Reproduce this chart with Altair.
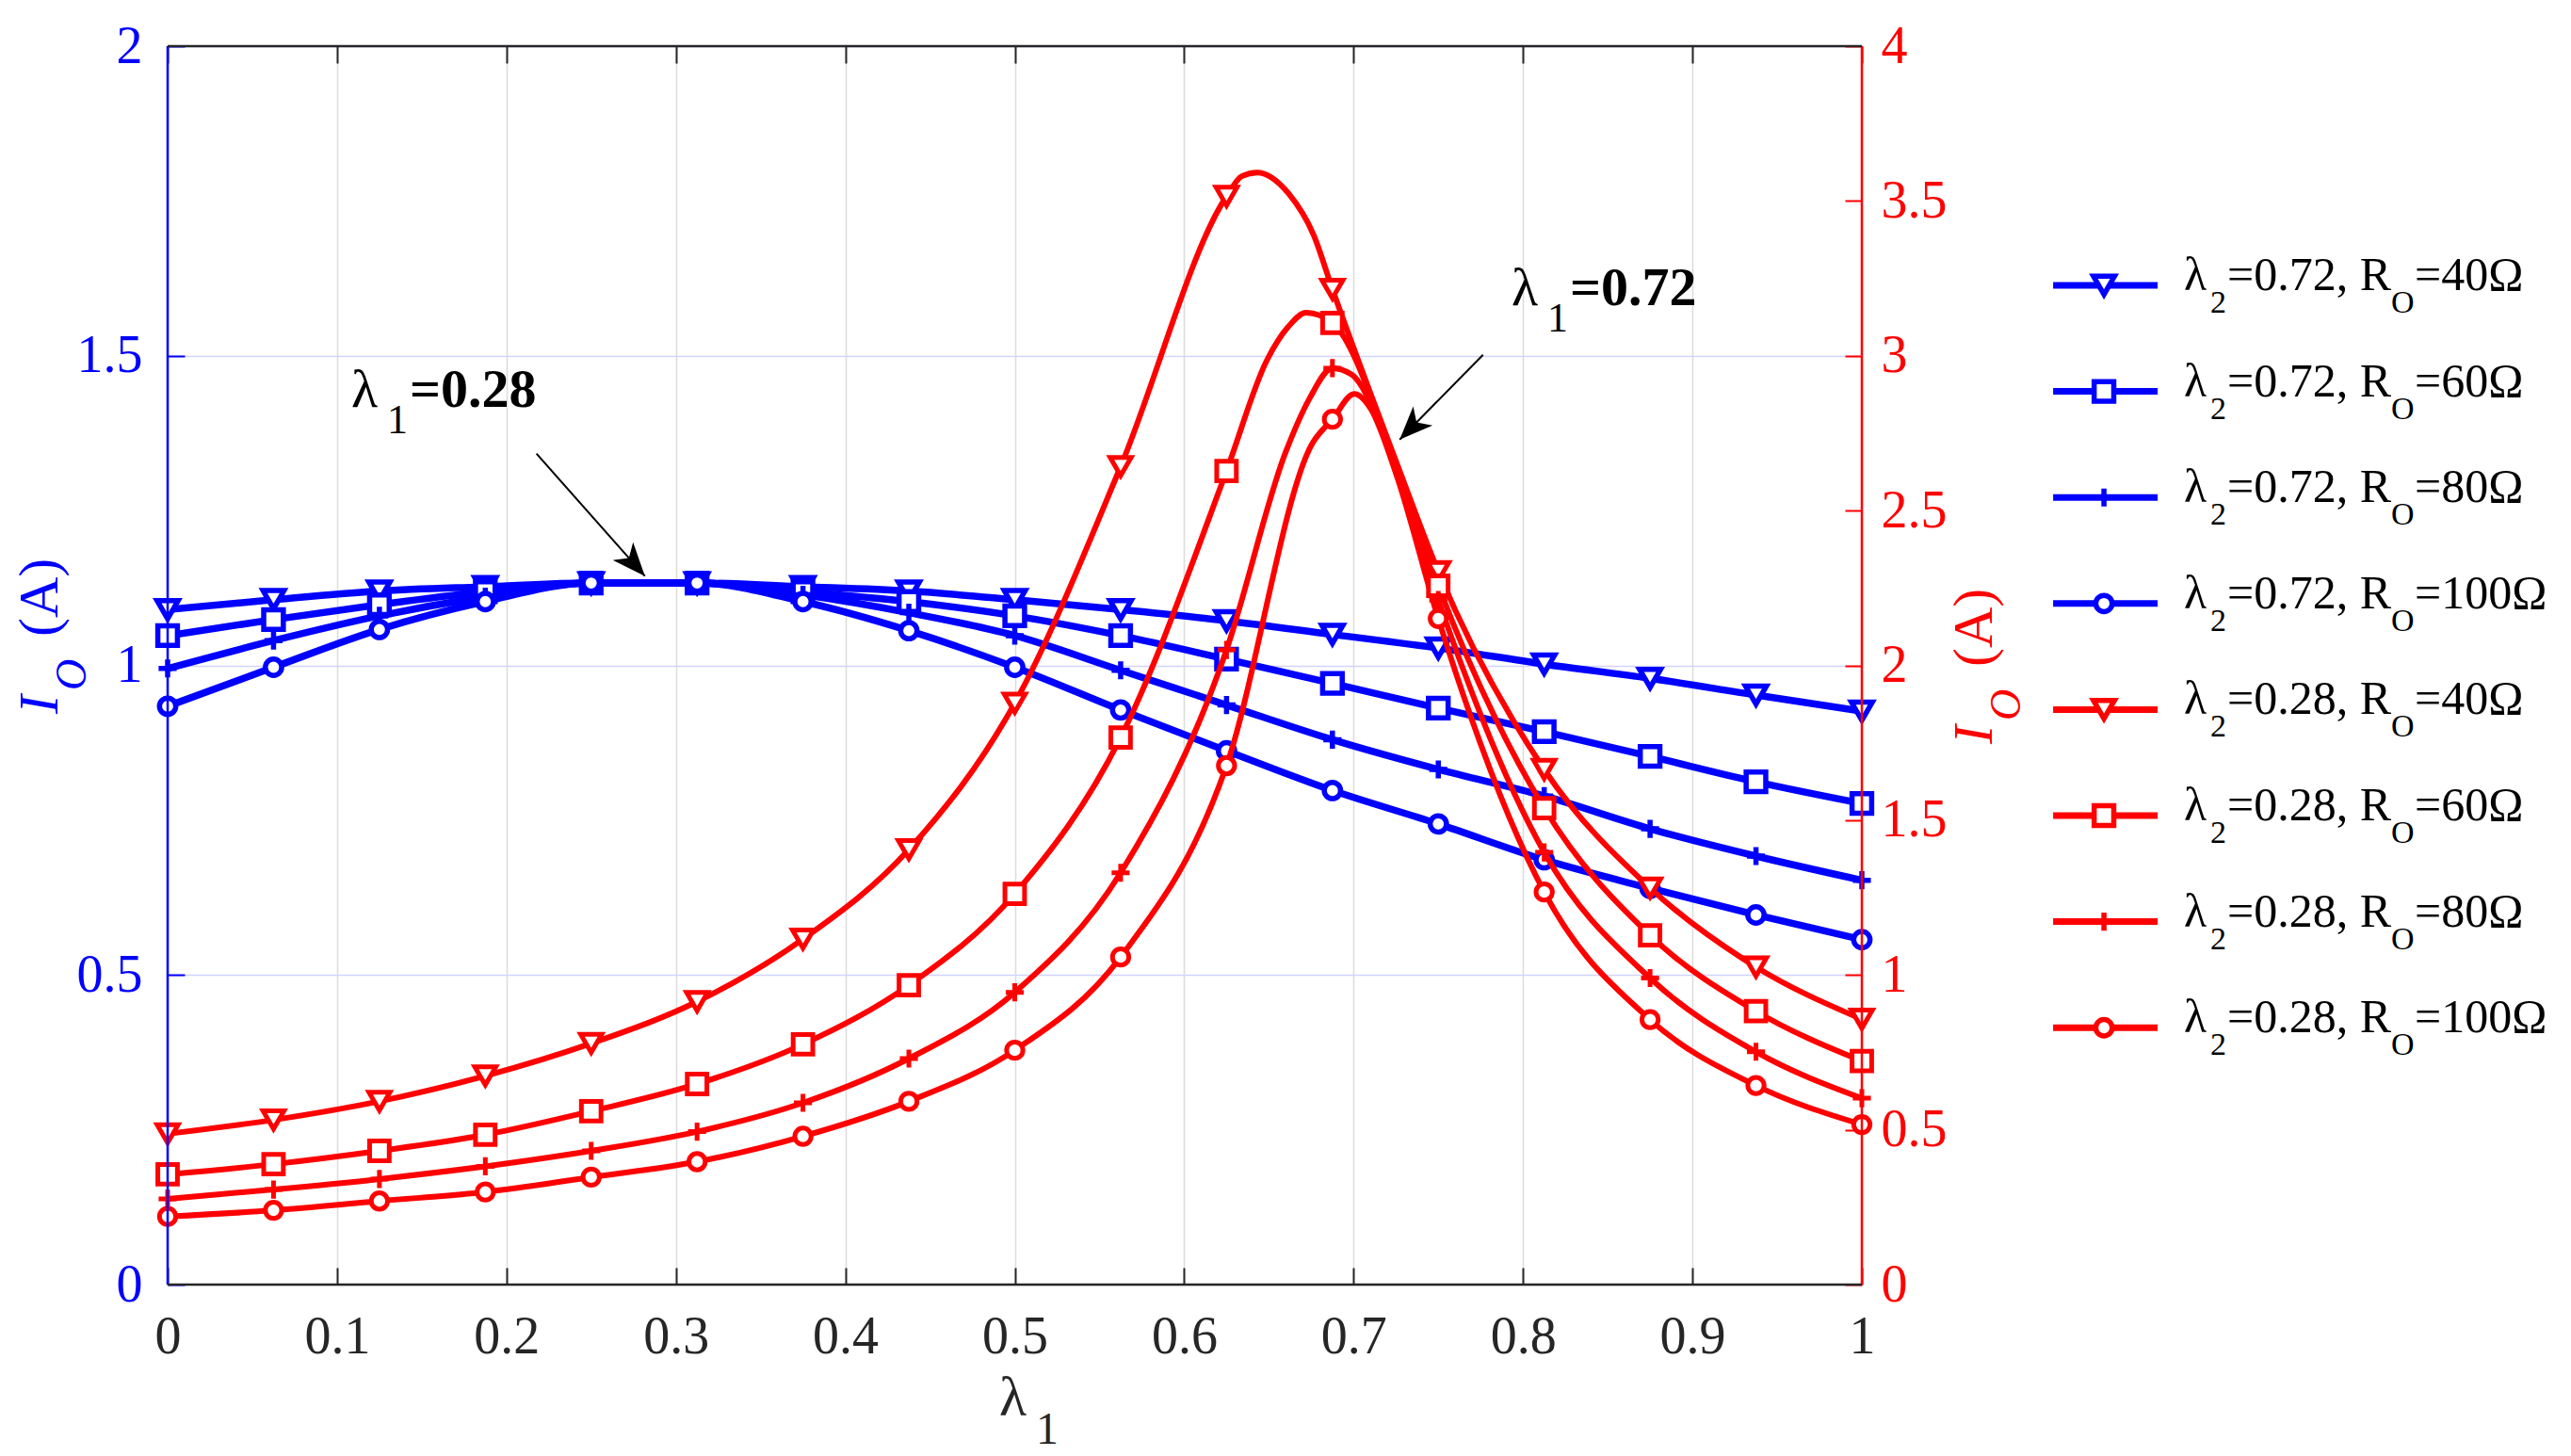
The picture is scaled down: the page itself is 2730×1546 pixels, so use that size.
import altair as alt
import pandas as pd

# ---------------- data ----------------
X = [0.0, 0.0625, 0.125, 0.1875, 0.25, 0.3125, 0.375, 0.4375, 0.5,
     0.5625, 0.625, 0.6875, 0.75, 0.8125, 0.875, 0.9375, 1.0]
R_LEVELS = ["40", "60", "80", "100"]

# lambda2 = 0.72 (left axis, blue)
BLUE_40 = [1.090, 1.106, 1.120, 1.127, 1.133, 1.133, 1.127, 1.120, 1.106,
           1.090, 1.072, 1.050, 1.028, 1.002, 0.979, 0.952, 0.926]
BLUE_60 = [1.048, 1.074, 1.098, 1.119, 1.133, 1.133, 1.119, 1.103, 1.080,
           1.048, 1.010, 0.971, 0.931, 0.893, 0.853, 0.812, 0.777]
BLUE_80 = [0.995, 1.040, 1.080, 1.111, 1.133, 1.133, 1.114, 1.085, 1.048,
           0.992, 0.936, 0.880, 0.832, 0.789, 0.736, 0.692, 0.653]
BLUE_100 = [0.934, 0.997, 1.058, 1.103, 1.133, 1.133, 1.103, 1.056, 0.997,
            0.928, 0.862, 0.798, 0.744, 0.686, 0.640, 0.597, 0.557]

# lambda2 = 0.28 (right axis, red)
RED_40 = [0.487, 0.532, 0.592, 0.674, 0.779, 0.914, 1.116, 1.405, 1.878,
          2.642, 3.515, 3.215, 2.303, 1.664, 1.281, 1.026, 0.857]
RED_60 = [0.356, 0.389, 0.432, 0.484, 0.560, 0.648, 0.776, 0.967, 1.262,
          1.767, 2.628, 3.106, 2.257, 1.539, 1.128, 0.883, 0.722]
RED_80 = [0.277, 0.307, 0.341, 0.382, 0.432, 0.494, 0.587, 0.730, 0.944,
          1.330, 2.050, 2.960, 2.211, 1.396, 0.990, 0.752, 0.602]
RED_100 = [0.220, 0.240, 0.270, 0.299, 0.347, 0.397, 0.479, 0.592, 0.757,
           1.058, 1.676, 2.795, 2.151, 1.268, 0.856, 0.643, 0.517]

# additional curve samples read between markers (around the peaks)
RED_40_EXTRA_X = [0.634, 0.643, 0.6615, 0.6765, 0.725]
RED_40_EXTRA_Y = [3.580, 3.592, 3.525, 3.389, 2.660]
RED_60_EXTRA_X = [0.6487, 0.6615, 0.672, 0.725]
RED_60_EXTRA_Y = [2.984, 3.094, 3.139, 2.645]
RED_80_EXTRA_X = [0.660, 0.674, 0.6987, 0.725]
RED_80_EXTRA_Y = [2.690, 2.862, 2.940, 2.635]
RED_100_EXTRA_X = [0.676, 0.7004, 0.710, 0.725]
RED_100_EXTRA_Y = [2.720, 2.877, 2.830, 2.620]

X_TICKS = [0, 0.1, 0.2, 0.3, 0.4, 0.5, 0.6, 0.7, 0.8, 0.9, 1]
YL_TICKS = [0, 0.5, 1, 1.5, 2]
YR_TICKS = [0, 0.5, 1, 1.5, 2, 2.5, 3, 3.5, 4]

LEGEND_LAMBDA = ["0.72", "0.72", "0.72", "0.72", "0.28", "0.28", "0.28", "0.28"]
LEGEND_R = ["40", "60", "80", "100", "40", "60", "80", "100"]

ANN_VALUES = ["=0.28", "=0.72"]

# ---------------- styling / layout ----------------
FONT = "Liberation Serif"
BLUE_C = "#0000ff"
RED_C = "#ff0000"
AX_C = "#262626"
PLUS = "M-1,0H1M0,-1V1"
ARROW = "M0,0L0.45,1.1L0,0.8L-0.45,1.1Z"
SHAPES = ["triangle-down", "square", PLUS, "circle"]
SIZES = [500, 300, 650, 484]
W, H = 1799, 1315


def line_df(series, extra):
    rows = []
    for r, ys in zip(R_LEVELS, series):
        ex_x, ex_y = extra.get(r, ([], []))
        pts = sorted(list(zip(X, ys)) + list(zip(ex_x, ex_y)))
        rows += [{"x": a, "y": b, "R": r} for a, b in pts]
    return pd.DataFrame(rows)


def pts_df(series):
    rows = []
    for r, ys in zip(R_LEVELS, series):
        rows += [{"x": a, "y": b, "R": r} for a, b in zip(X, ys)]
    return pd.DataFrame(rows)


blue_series = [BLUE_40, BLUE_60, BLUE_80, BLUE_100]
red_series = [RED_40, RED_60, RED_80, RED_100]
red_extra = {"40": (RED_40_EXTRA_X, RED_40_EXTRA_Y),
             "60": (RED_60_EXTRA_X, RED_60_EXTRA_Y),
             "80": (RED_80_EXTRA_X, RED_80_EXTRA_Y),
             "100": (RED_100_EXTRA_X, RED_100_EXTRA_Y)}

blue_line = line_df(blue_series, {})
blue_pts = pts_df(blue_series)
red_line = line_df(red_series, red_extra)
red_pts = pts_df(red_series)

xs = alt.Scale(domain=[0, 1], nice=False, zero=False)
yl = alt.Scale(domain=[0, 2], nice=False, zero=False)
yr = alt.Scale(domain=[0, 4], nice=False, zero=False)

lab = dict(labelFont=FONT, labelFontSize=56, labelFlush=False, labelOverlap=False)

ax_bottom = alt.Axis(orient="bottom", values=X_TICKS, format="~g", title=None,
                     grid=True, gridColor="#dcdcdc", gridWidth=1.5, domain=False,
                     tickSize=18, tickWidth=2, tickColor=AX_C, offset=-18,
                     labelPadding=28, labelColor=AX_C, **lab)
ax_left = alt.Axis(orient="left", values=YL_TICKS, format="~g", title=None,
                   grid=True, gridColor="#d4d4ff", gridWidth=1.5, domain=False,
                   tickSize=18, tickWidth=2, tickColor=BLUE_C, offset=-18,
                   labelPadding=27, labelColor=BLUE_C, **lab)
ax_top = alt.Axis(orient="top", values=X_TICKS, labels=False, title=None,
                  grid=False, domain=False, tickSize=18, tickWidth=2,
                  tickColor=AX_C, offset=-18)
ax_right = alt.Axis(orient="right", values=YR_TICKS, format="~g", title=None,
                    grid=False, domain=False, tickSize=18, tickWidth=2,
                    tickColor=RED_C, offset=-18, labelPadding=20,
                    labelColor=RED_C, **lab)

shape_enc = alt.Shape("R:N", scale=alt.Scale(domain=R_LEVELS, range=SHAPES), legend=None)
size_enc = alt.Size("R:O", scale=alt.Scale(domain=R_LEVELS, range=SIZES), legend=None)

# ---- blue group (left axis) ----
bx = alt.X("x:Q", scale=xs, axis=ax_bottom)
by = alt.Y("y:Q", scale=yl, axis=ax_left)
g_blue = alt.layer(
    alt.Chart(blue_line).mark_line(interpolate="monotone", color=BLUE_C, strokeWidth=7.5,
                                   strokeJoin="round").encode(x=bx, y=by, detail="R:N"),
    alt.Chart(blue_pts).mark_point(filled=False, fill="white", color=BLUE_C,
                                   strokeWidth=5.5, opacity=1).encode(
        x=bx, y=by, shape=shape_enc, size=size_enc),
)

# ---- red group (right axis) ----
rx = alt.X("x:Q", scale=xs, axis=ax_top)
ry = alt.Y("y:Q", scale=yr, axis=ax_right)
g_red = alt.layer(
    alt.Chart(red_line).mark_line(interpolate="monotone", color=RED_C, strokeWidth=6,
                                  strokeJoin="round").encode(x=rx, y=ry, detail="R:N"),
    alt.Chart(red_pts).mark_point(filled=False, fill="white", color=RED_C,
                                  strokeWidth=5, opacity=1).encode(
        x=rx, y=ry, shape=shape_enc, size=size_enc),
)

# ---- annotation group (uses left-axis units, no axes) ----
nx = alt.X("x:Q", scale=xs, axis=None)
ny = alt.Y("y:Q", scale=yl, axis=None)
nx2 = alt.X2("x2:Q")
ny2 = alt.Y2("y2:Q")
ident = alt.Color("c:N", scale=None, legend=None)


def txt(df, field, dx=0, dy=0, size=56, weight="normal", style="normal", angle=0):
    mk = dict(align="left", baseline="alphabetic", dx=dx, dy=dy, font=FONT,
              fontSize=size, fontWeight=weight, fontStyle=style)
    if angle:
        mk["angle"] = angle
    return alt.Chart(df).mark_text(**mk).encode(x=nx, y=ny, text=f"{field}:N", color=ident)


# borders
vb = pd.DataFrame({"x": [0, 1], "c": [BLUE_C, RED_C]})
hb = pd.DataFrame({"y": [0, 2], "c": [AX_C, AX_C]})
borders = [
    alt.Chart(vb).mark_rule(strokeWidth=2.5).encode(x=nx, color=ident),
    alt.Chart(hb).mark_rule(strokeWidth=2.5).encode(y=ny, color=ident),
]

# annotations
ann = pd.DataFrame({"x": [0.1084, 0.7932], "y": [1.4175, 1.5817],
                    "lam": ["\u03bb", "\u03bb"], "sub": ["1", "1"],
                    "val": ANN_VALUES, "c": ["#000000", "#000000"]})
ann_layers = [
    txt(ann, "lam", size=58),
    txt(ann, "sub", dx=38, dy=28, size=44),
    txt(ann, "val", dx=62, size=58, weight="bold"),
]
arrows = pd.DataFrame({"x": [0.2177, 0.7764], "y": [1.3419, 1.5016],
                       "x2": [0.2817, 0.7272], "y2": [1.1442, 1.3647],
                       "ang": [138.5, 224.5]})
arrow_layers = [
    alt.Chart(arrows).mark_rule(color="#000000", strokeWidth=2).encode(x=nx, y=ny, x2=nx2, y2=ny2),
    alt.Chart(arrows).mark_point(shape=ARROW, filled=True, color="#000000", size=4096,
                                 opacity=1).encode(
        x=alt.X("x2:Q", scale=xs, axis=None), y=alt.Y("y2:Q", scale=yl, axis=None),
        angle=alt.Angle("ang:Q", scale=None)),
]

# axis titles
ytitles = pd.DataFrame({"x": [-0.065, 1.0767], "y": [0.9217, 0.873],
                        "I": ["I", "I"], "O": ["O", "O"], "A": ["(A)", "(A)"],
                        "c": [BLUE_C, RED_C]})
title_layers = [
    txt(ytitles, "I", size=60, style="italic", angle=270),
    txt(ytitles, "O", dx=25, dy=30, size=46, style="italic", angle=270),
    txt(ytitles, "A", dx=82, size=60, angle=270),
]
xtitle = pd.DataFrame({"x": [0.4908], "y": [-0.2114], "lam": ["\u03bb"], "sub": ["1"],
                       "c": [AX_C]})
title_layers += [
    txt(xtitle, "lam", size=60),
    txt(xtitle, "sub", dx=39, dy=30, size=48),
]

# legend
LEG_Y0, LEG_STEP = 1.6137, 0.17126
leg = pd.DataFrame({
    "R": LEGEND_R,
    "y": [LEG_Y0 - LEG_STEP * i for i in range(len(LEGEND_R))],
    "c": [BLUE_C if l == "0.72" else RED_C for l in LEGEND_LAMBDA],
    "lam": ["\u03bb"] * len(LEGEND_R),
    "s2": ["2"] * len(LEGEND_R),
    "mid": ["=" + l + ", R" for l in LEGEND_LAMBDA],
    "sO": ["O"] * len(LEGEND_R),
    "tail": ["=" + r + "\u03a9" for r in LEGEND_R],
})
leg["x"] = 1.1129
leg["x2"] = 1.1746
leg["xm"] = 1.1429
leg["xt"] = 1.1901
leg["tc"] = "#000000"
lx = alt.X("xt:Q", scale=xs, axis=None)


def ltxt(field, dx, dy, size):
    return alt.Chart(leg).mark_text(align="left", baseline="alphabetic", dx=dx, dy=dy,
                                    font=FONT, fontSize=size).encode(
        x=lx, y=ny, text=f"{field}:N", color=alt.Color("tc:N", scale=None, legend=None))


legend_layers = [
    alt.Chart(leg).mark_rule(strokeWidth=7).encode(x=nx, x2=nx2, y=ny, color=ident),
    alt.Chart(leg).mark_point(filled=False, fill="white", strokeWidth=5.5, opacity=1).encode(
        x=alt.X("xm:Q", scale=xs, axis=None), y=ny, shape=shape_enc, size=size_enc,
        color=ident),
    ltxt("lam", 0, 5, 50),
    ltxt("s2", 28, 29, 34),
    ltxt("mid", 46, 5, 50),
    ltxt("sO", 220, 29, 34),
    ltxt("tail", 245, 5, 50),
]

g_ann = alt.layer(*borders, *ann_layers, *arrow_layers, *title_layers, *legend_layers)

chart = (
    alt.layer(g_blue, g_red, g_ann)
    .resolve_scale(y="independent")
    .resolve_axis(x="independent", y="independent")
    .properties(width=W, height=H, padding={"left": 5, "top": 13, "right": 5, "bottom": 5},
                background="white")
    .configure_view(stroke=None)
)

chart.save("out.html", embed_options={"renderer": "svg", "actions": False})
